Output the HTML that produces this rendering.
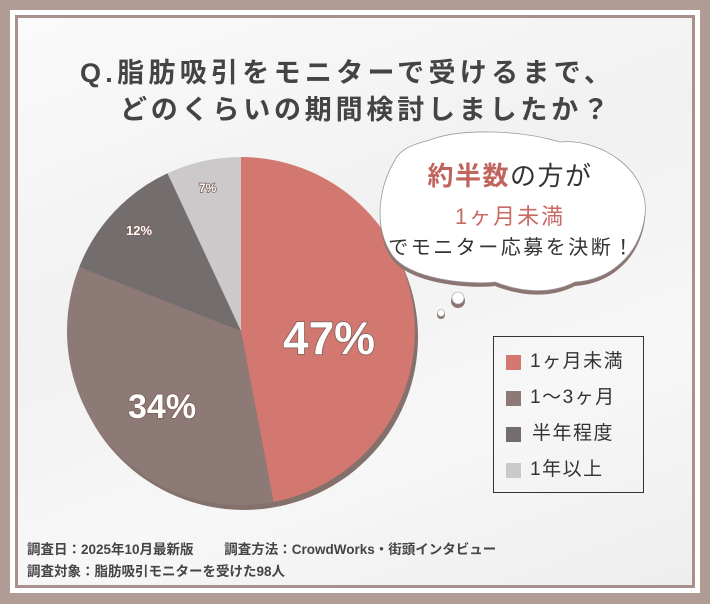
<!DOCTYPE html>
<html><head><meta charset="utf-8"><style>
body{margin:0;width:710px;height:604px;overflow:hidden;background:#b09b95;font-family:"Liberation Sans","Noto Sans CJK JP",sans-serif;}
.w{position:absolute;left:10px;top:10px;width:690px;height:583px;background:#fff;}
.i{position:absolute;left:15px;top:15px;width:680px;height:573px;background:#a8918b;}
.c{position:absolute;left:18px;top:18px;width:674px;height:567px;background:linear-gradient(160deg,#fafafa,#f1f1f1 40%,#f7f7f7 70%,#eeeeee);}
.t{position:absolute;color:#444;font-weight:bold;white-space:nowrap;}
</style></head><body>
<div class="w"></div><div class="i"></div><div class="c"></div>
<div class="t" style="left:80px;top:51px;font-size:27px;letter-spacing:4.3px">Q.脂肪吸引をモニターで受けるまで、</div>
<div class="t" style="left:120px;top:88px;font-size:27px;letter-spacing:3.8px">どのくらいの期間検討しましたか？</div>
<svg width="710" height="604" style="position:absolute;left:0;top:0">
<g transform="translate(244,337) scale(1,0.994)">
<circle r="174" fill="#84716c"/>
</g>
<g transform="translate(241,331)">
<path d="M0,0 L0,-174 A174,174 0 0 1 32.6,170.9 Z" fill="#d27870"/>
<path d="M0,0 L32.6,170.9 A174,174 0 0 1 -161.8,-64 Z" fill="#8d7a77"/>
<path d="M0,0 L-161.8,-64 A174,174 0 0 1 -73.5,-157.7 Z" fill="#736d6d"/>
<path d="M0,0 L-73.5,-157.7 A174,174 0 0 1 0,-174 Z" fill="#cbc9ca"/>
</g>
<g font-family="Liberation Sans, sans-serif" font-weight="bold" fill="#fff" style="paint-order:stroke" stroke="#7a5a55" stroke-width="1.5">
<text x="283" y="354" font-size="46">47%</text>
<text x="128" y="418" font-size="34">34%</text>
<text x="126" y="235" font-size="13">12%</text>
<text x="199" y="192" font-size="12">7%</text>
</g>
<path d="M395,160 C380,185 372,225 392,255 C410,280 470,285 495,282 C520,292 550,295 575,282 C610,280 640,255 645,215 C650,170 600,138 560,142 C520,130 460,128 430,140 C410,145 400,150 395,160 Z" fill="#8a7570" transform="translate(0,4)"/>
<path d="M395,160 C380,185 372,225 392,255 C410,280 470,285 495,282 C520,292 550,295 575,282 C610,280 640,255 645,215 C650,170 600,138 560,142 C520,130 460,128 430,140 C410,145 400,150 395,160 Z" fill="#fff" stroke="#999" stroke-width="0.8"/>
<circle cx="458" cy="301" r="7" fill="#8a7570"/><circle cx="458" cy="298" r="6" fill="#fff" stroke="#999" stroke-width="0.6"/>
<circle cx="441" cy="315" r="4" fill="#8a7570"/><circle cx="441" cy="313" r="3.5" fill="#fff" stroke="#999" stroke-width="0.6"/>
</svg>
<div class="t" style="left:370px;width:280px;text-align:center;top:156px;font-size:26px;letter-spacing:1.5px;font-weight:normal;color:#333"><span style="color:#c0655e;font-weight:bold">約半数</span>の方が</div>
<div class="t" style="left:370px;width:280px;text-align:center;top:199px;font-size:22px;letter-spacing:2px;font-weight:normal;color:#c96a63">1ヶ月未満</div>
<div class="t" style="left:372px;width:280px;text-align:center;top:231px;font-size:20px;letter-spacing:2.5px;font-weight:normal;color:#333">でモニター応募を決断！</div>
<div style="position:absolute;left:493px;top:336px;width:149px;height:155px;border:1px solid #333;"></div>
<div style="position:absolute;left:506px;top:355px;width:15px;height:15px;background:#d27870"></div>
<div style="position:absolute;left:506px;top:391px;width:15px;height:15px;background:#8d7a77"></div>
<div style="position:absolute;left:506px;top:427px;width:15px;height:15px;background:#736d6d"></div>
<div style="position:absolute;left:506px;top:463px;width:15px;height:15px;background:#cbc9ca"></div>
<div class="t" style="left:530px;top:350px;font-size:19px;letter-spacing:1.5px;font-weight:normal;color:#333;line-height:24px">1ヶ月未満</div>
<div class="t" style="left:530px;top:386px;font-size:19px;letter-spacing:1.5px;font-weight:normal;color:#333;line-height:24px">1〜3ヶ月</div>
<div class="t" style="left:532px;top:422px;font-size:19px;letter-spacing:1.5px;font-weight:normal;color:#333;line-height:24px">半年程度</div>
<div class="t" style="left:530px;top:458px;font-size:19px;letter-spacing:1.5px;font-weight:normal;color:#333;line-height:24px">1年以上</div>
<div class="t" style="left:27px;top:538px;font-size:13.5px">調査日：2025年10月最新版　　 調査方法：CrowdWorks・街頭インタビュー</div>
<div class="t" style="left:27px;top:560px;font-size:13.5px">調査対象：脂肪吸引モニターを受けた98人</div>
</body></html>
